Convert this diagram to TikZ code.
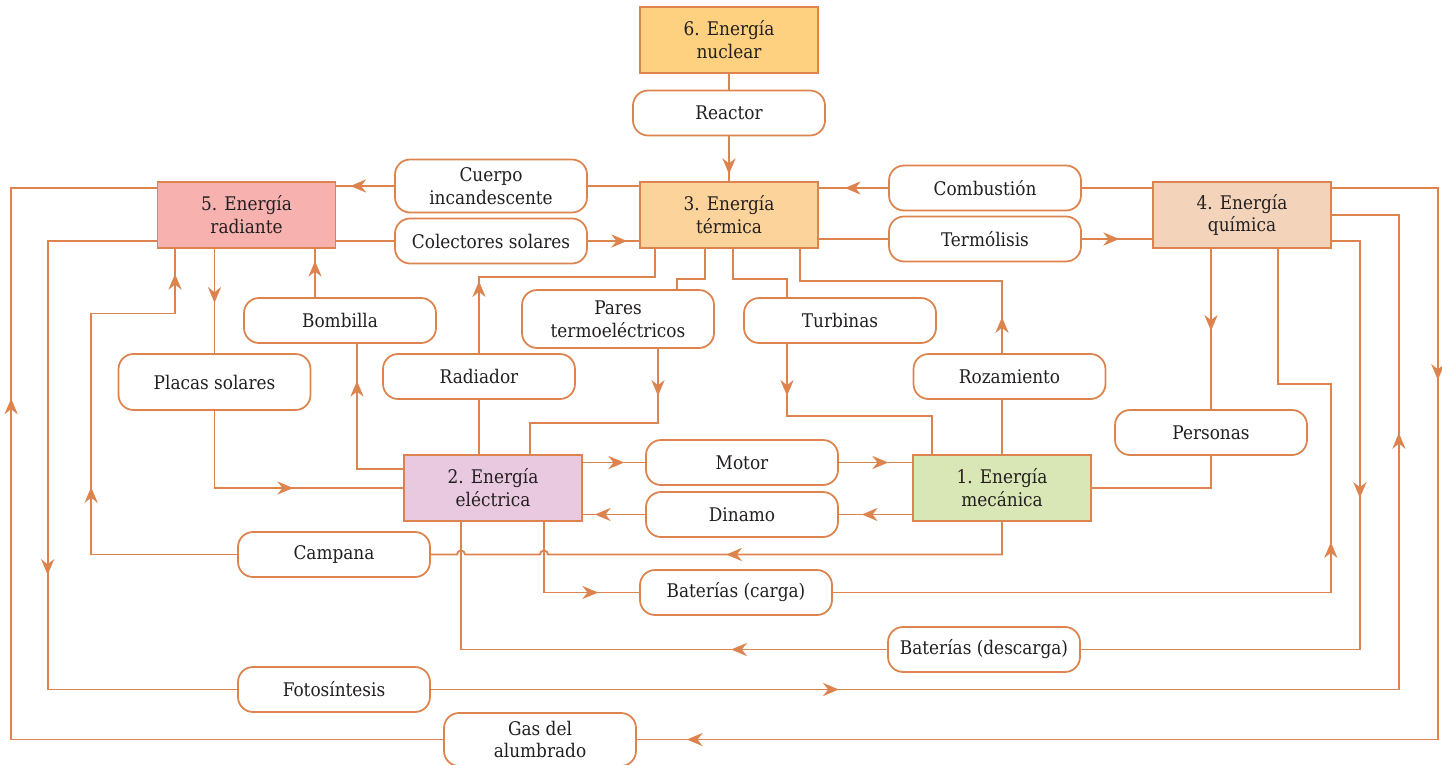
\documentclass[tikz,border=0pt]{standalone}
\usepackage{fontspec}
\setmainfont{DejaVu Serif Condensed}
\usepackage{xcolor}
\usepackage{tikz}
\usetikzlibrary{positioning,arrows.meta,decorations.markings}

\definecolor{linea}{RGB}{221,132,78}
\definecolor{texto}{RGB}{35,31,32}
\definecolor{cNuclear}{RGB}{253,209,127}
\definecolor{cTermica}{RGB}{252,211,155}
\definecolor{cRadiante}{RGB}{247,178,176}
\definecolor{cQuimica}{RGB}{243,212,186}
\definecolor{cElectrica}{RGB}{233,201,223}
\definecolor{cMecanica}{RGB}{217,230,181}

\begin{document}
\begin{tikzpicture}[
		x=0.02cm, y=-0.02cm,
		font=\fontsize{10.7}{13}\selectfont, text=texto,
		energia/.style={draw=linea, line width=1pt, minimum width=3.56cm, minimum height=1.32cm, align=center, inner sep=1pt},
		proceso/.style={draw=linea, line width=1pt, fill=white, rounded corners=0.3cm, minimum width=3.84cm, minimum height=0.9cm, align=center, inner sep=1pt},
		flujo/.style={draw=linea, line width=1.05pt},
		punta/.style={postaction={decorate, decoration={markings, mark=at position #1 with {\arrow{Stealth[length=9pt,width=7.5pt,color=linea]}}}}}
		]
		\useasboundingbox (0,0) rectangle (1442,764);
		
		% Cajas de energía
		\node[energia, fill=cNuclear]   (nuclear)   at (729,40)    {6. Energía\\nuclear};
		\node[energia, fill=cTermica]   (termica)   at (729,215)   {3. Energía\\térmica};
		\node[energia, fill=cRadiante]  (radiante)  at (246.5,215) {5. Energía\\radiante};
		\node[energia, fill=cQuimica]   (quimica)   at (1242,215)  {4. Energía\\química};
		\node[energia, fill=cElectrica] (electrica) at (493,488)   {2. Energía\\eléctrica};
		\node[energia, fill=cMecanica]  (mecanica)  at (1002,488)  {1. Energía\\mecánica};
		
		% Procesos de una línea
		\foreach \nom/\px/\py/\txt in {reactor/729/113/Reactor, colectores/491/241/Colectores solares,
			combustion/985/188/Combustión, termolisis/985/239/Termólisis, bombilla/340/320.5/Bombilla,
			turbinas/840/320.5/Turbinas, radiador/479/376.5/Radiador, rozamiento/1009.5/376.5/Rozamiento,
			personas/1211/432.5/Personas, motor/742/462.5/Motor, dinamo/742/514.5/Dinamo,
			campana/334/554.5/Campana, bcarga/736/592.5/Baterías (carga),
			bdescarga/984/649.5/Baterías (descarga), foto/334/689.5/Fotosíntesis} {
			\node[proceso] (\nom) at (\px,\py) {\txt};
		}
		% Procesos más altos
		\node[proceso, minimum height=1.06cm] (cuerpo) at (491,186)   {Cuerpo\\incandescente};
		\node[proceso, minimum height=1.16cm] (pares)  at (618,319)   {Pares\\termoeléctricos};
		\node[proceso, minimum height=1.12cm] (placas) at (214.5,382) {Placas solares};
		\node[proceso, minimum height=1.06cm] (gas)    at (540,739.5) {Gas del\\alumbrado};
		
		% Nuclear y térmica
		\draw[flujo] (nuclear) -- (reactor);
		\draw[flujo, punta=-0.14cm] (reactor) -- (termica);
		\draw[flujo] (termica.west |- cuerpo) -- (cuerpo);
		\draw[flujo, punta=-0.28cm] (cuerpo) -- (radiante.east |- cuerpo);
		\draw[flujo] (radiante.east |- colectores) -- (colectores);
		\draw[flujo, punta=-0.24cm] (colectores) -- (termica.west |- colectores);
		\draw[flujo] (quimica.west |- combustion) -- (combustion);
		\draw[flujo, punta=-0.52cm] (combustion) -- (termica.east |- combustion);
		\draw[flujo] (termica.east |- termolisis) -- (termolisis);
		\draw[flujo, punta=-0.66cm] (termolisis) -- (quimica.west |- termolisis);
		
		% Debajo de la radiante
		\draw[flujo, punta=1.08cm] (radiante.south -| placas) -- (placas);
		\draw[flujo, punta=-2.2cm] (placas) |- (electrica);
		\draw[flujo, punta=-0.74cm] ([yshift=0.38cm]electrica.west) -| ([xshift=0.34cm]bombilla.south);
		\draw[flujo, punta=-0.24cm] ([xshift=-0.5cm]bombilla.north) -- ([xshift=-0.5cm]bombilla.north |- radiante.south);
		
		% Debajo de la térmica
		\draw[flujo] (electrica.north -| radiador) -- (radiador);
		\draw[flujo, punta=1.44cm] (radiador.north) -- ++(0,-76) -| ([xshift=-1.48cm]termica.south);
		\draw[flujo] ([xshift=-0.48cm]termica.south) -- ++(0,30) -| ([xshift=1.18cm]pares.north);
		\draw[flujo, punta=0.94cm] ([xshift=0.8cm]pares.south) -- ++(0,74) -| ([xshift=0.74cm]electrica.north);
		\draw[flujo] ([xshift=0.08cm]termica.south) -- ++(0,30) -| ([xshift=-1.06cm]turbinas.north);
		\draw[flujo, punta=1.04cm] ([xshift=-1.06cm]turbinas.south) -- ++(0,72) -| ([xshift=-1.4cm]mecanica.north);
		\draw[flujo] (mecanica.north) -- (mecanica.north |- rozamiento.south);
		\draw[flujo, punta=0.72cm] (mecanica.north |- rozamiento.north) -- ++(0,-72) -| ([xshift=1.42cm]termica.south);
		
		% Eléctrica y mecánica
		\draw[flujo, punta=-0.42cm] (electrica.east |- motor) -- (motor);
		\draw[flujo, punta=-0.48cm] (motor) -- (mecanica.west |- motor);
		\draw[flujo, punta=-0.46cm] (mecanica.west |- dinamo) -- (dinamo);
		\draw[flujo, punta=-0.24cm] (dinamo) -- (electrica.east |- dinamo);
		\draw[flujo, punta=6.17cm] (mecanica.south) |- ([xshift=1.1cm]electrica.south |- campana)
			arc[start angle=0, end angle=180, radius=0.08cm] -- ([xshift=-0.56cm]electrica.south |- campana)
			arc[start angle=0, end angle=180, radius=0.08cm] -- (campana);
		\draw[flujo, punta=4.27cm, punta=-0.5cm] (campana.west) -- ++(-146,0) -- ++(0,-241) -| ([xshift=-1.43cm]radiante.south);
		
		% Baterías
		\draw[flujo, punta=-0.82cm] ([xshift=1.02cm]electrica.south) |- (bcarga);
		\draw[flujo, punta=10.97cm] (bcarga.east) -- ++(498,0) -- ++(0,-208.5) -| ([xshift=0.72cm]quimica.south);
		\draw[flujo, punta=5.7cm] ([yshift=-0.52cm]quimica.east) -- ++(28,0) |- (bdescarga);
		\draw[flujo, punta=3.12cm] (bdescarga) -| ([xshift=-0.64cm]electrica.south);
		
		% Química y personas
		\draw[flujo, punta=1.64cm] (quimica.south -| personas) -- (personas);
		\draw[flujo] (personas) |- (mecanica);
		
		% Lazos exteriores
		\draw[flujo, punta=8.86cm] ([yshift=-0.52cm]radiante.west) -- ++(-109,0) |- (foto);
		\draw[flujo, punta=8.16cm, punta=-5.7cm] (foto.east) -- ++(968,0) |- (quimica.east);
		\draw[flujo, punta=5.96cm, punta=-1cm] ([yshift=0.54cm]quimica.east) -- ++(106,0) |- (gas);
		\draw[flujo, punta=-7.12cm] (gas.west) -- ++(-432,0) |- ([yshift=0.54cm]radiante.west);
	\end{tikzpicture}
\end{document}
